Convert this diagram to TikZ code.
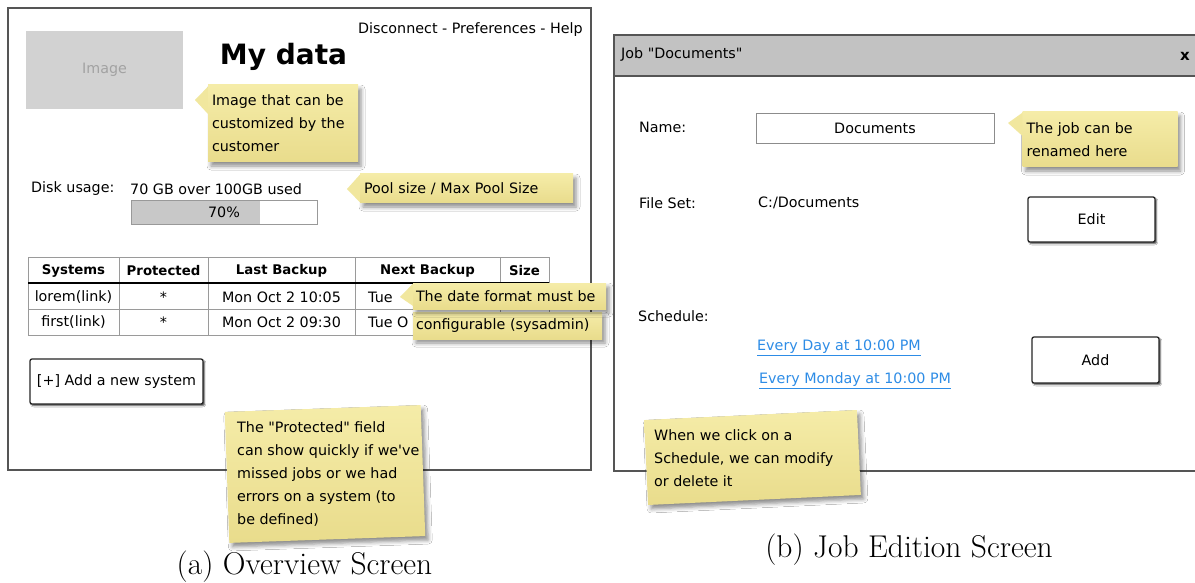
\documentclass[tikz,border=0pt]{standalone}
\usepackage{fontspec}
\newfontfamily\uifont{DejaVu Sans}
\usetikzlibrary{shadows.blur}
\definecolor{notetop}{HTML}{F5ECA8}
\definecolor{notebot}{HTML}{E9DC8C}
\definecolor{pointerc}{HTML}{F1E79E}
\definecolor{framec}{HTML}{555555}
\definecolor{gridc}{HTML}{9A9A9A}
\definecolor{phfill}{HTML}{D2D2D2}
\definecolor{phtext}{HTML}{A2A2A2}
\definecolor{barfill}{HTML}{C8C8C8}
\definecolor{titlebar}{HTML}{C2C2C2}
\definecolor{linkc}{HTML}{2D8CE6}
\begin{document}
\begin{tikzpicture}[x=1pt,y=-1pt,
  ui/.style={font=\uifont\fontsize{14.3}{23}\selectfont, inner sep=0pt},
  head/.style={font=\uifont\bfseries\fontsize{13.3}{16}\selectfont, inner sep=0pt},
  frame/.style={draw=framec, line width=1.4pt},
  grid/.style={draw=gridc, line width=0.9pt},
  notebody/.style={top color=notetop, bottom color=notebot, draw=none,
    blur shadow={shadow xshift=3pt, shadow yshift=-4pt, shadow blur radius=4pt, shadow opacity=45}},
  callnote/.style={notebody, font=\uifont\fontsize{14.3}{23}\selectfont, align=left, inner ysep=0pt},
  pointer/.style={fill=pointerc, draw=none},
  notetext/.style={font=\uifont\fontsize{14.3}{23}\selectfont, align=left, inner sep=0pt},
  btn/.style={draw=black!85, line width=1.3pt, rounded corners=2pt, fill=white,
    font=\uifont\fontsize{14.3}{17}\selectfont,
    blur shadow={shadow xshift=1.6pt, shadow yshift=-1.8pt, shadow blur radius=1.2pt, shadow opacity=70}},
  field/.style={draw=black!45, line width=0.9pt, fill=white, font=\uifont\fontsize{14.3}{17}\selectfont},
  link/.style={font=\uifont\fontsize{14.3}{17}\selectfont, text=linkc, inner sep=0pt},
  caption/.style={font=\fontsize{31.5}{36}\selectfont, inner sep=0pt}]
\useasboundingbox (0,0) rectangle (1195,583);
\fill[white] (0,0) rectangle (1195,583);

% ---------------- Overview screen ----------------
\draw[frame] (8,8) rectangle (591,470);
\node[ui, anchor=east] (menu) at (583,30) {Disconnect - Preferences - Help};
\node[fill=phfill, minimum width=157, minimum height=78, text=phtext,
      font=\uifont\fontsize{14.3}{17}\selectfont] (logo) at (104.5,70) {Image};
\node[font=\uifont\bfseries\fontsize{28}{32}\selectfont, inner sep=0pt] (title) at (283.5,57) {My data};

\node[callnote, minimum width=150, minimum height=77, text width=142, inner xsep=4pt] (noteImg) at (283,123.5)
      {Image that can be\\customized by the\\customer};
\coordinate (tipImg) at (195,100);
\fill[pointer] ([yshift=-2pt]noteImg.north west) -- (tipImg) -- ([yshift=-29pt]noteImg.north west) -- cycle;

\node[ui, anchor=west] (disk) at (31,189) {Disk usage:};
\node[ui, anchor=west] (used) at (130,189) {70 GB over 100GB used};
\node[draw=black!40, line width=0.9pt, minimum width=186, minimum height=24,
      path picture={\fill[barfill] (path picture bounding box.north west)
        rectangle ([xshift=129pt]path picture bounding box.south west);}] (bar) at (224,212) {};
\node[ui] (pct) at (bar.center) {70\%};

\node[callnote, minimum width=213, minimum height=29, text width=205, inner xsep=4pt] (notePool) at (466.5,188.5)
      {Pool size / Max Pool Size};
\coordinate (tipPool) at (347,189);
\fill[pointer] ([yshift=-1pt]notePool.north west) -- (tipPool) -- ([yshift=1pt]notePool.south west) -- cycle;

% systems table
\draw[grid] (28,257) rectangle (549,335);
\foreach \cx in {119,208,355,500} \draw[grid] (\cx,257) -- (\cx,335);
\draw[grid] (28,309) -- (549,309);
\draw[black, line width=1.8pt] (28,283) -- (549,283);
\node[head] (hSys)  at (73.5,271)  {Systems};
\node[head] (hProt) at (163.5,271) {Protected};
\node[head] (hLast) at (281.5,271) {Last Backup};
\node[head] (hNext) at (427.5,271) {Next Backup};
\node[head] (hSize) at (524.5,271) {Size};
\node[ui] (r1a) at (73.5,297)  {lorem(link)};
\node[ui] (r1b) at (163.5,297) {*};
\node[ui] (r1c) at (281.5,297) {Mon Oct 2 10:05};
\node[ui, anchor=west] (r1d) at (368,297) {Tue};
\node[ui] (r2a) at (73.5,322)  {first(link)};
\node[ui] (r2b) at (163.5,322) {*};
\node[ui] (r2c) at (281.5,322) {Mon Oct 2 09:30};
\node[ui, anchor=west] (r2d) at (368,322) {Tue O};

\node[callnote, minimum width=189, minimum height=27, text width=183, inner xsep=3pt]
      (noteDate2) at (507.5,325.5) {configurable (sysadmin)};
\node[callnote, minimum width=193, minimum height=26, text width=187, inner xsep=3pt] (noteDate) at (509.5,296)
      {The date format must be};
\coordinate (tipDate) at (400,297);
\fill[pointer] ([yshift=-1pt]noteDate.north west) -- (tipDate) -- ([yshift=-23pt]noteDate.north west) -- cycle;

\node[btn, minimum width=173, minimum height=45] (addSys) at (116.5,381.5) {[+] Add a new system};

\node[notebody, rotate=2, minimum width=196, minimum height=131] (noteProt) at (325,474) {};
\node[notetext, anchor=west] (protText) at (237,474.5)
  {The "Protected" field\\can show quickly if we\textquotesingle ve\\missed jobs or we had\\errors on a system (to\\be defined)};

\node[caption] (capA) at (304.5,567) {(a) Overview Screen};

% ---------------- Job edition screen ----------------
\fill[titlebar] (614,35) rectangle (1198,76);
\draw[frame] (614,35) rectangle (1198,471);
\draw[frame] (614,76) -- (1198,76);
\node[ui, anchor=west] (jobTitle) at (621,55) {Job "Documents"};
\node[font=\uifont\bfseries\fontsize{15}{17}\selectfont, inner sep=0pt] (close) at (1185,56) {x};

\node[ui, anchor=west] (lblName) at (639,127) {Name:};
\node[field, minimum width=238, minimum height=30] (fName) at (875,128) {Documents};
\node[callnote, minimum width=155, minimum height=55, text width=147, inner xsep=4pt] (noteName) at (1100,139.5)
      {The job can be\\renamed here};
\coordinate (tipName) at (1008,123);
\fill[pointer] ([yshift=-1pt]noteName.north west) -- (tipName) -- ([yshift=-24pt]noteName.north west) -- cycle;

\node[ui, anchor=west] (lblSet) at (639,203) {File Set:};
\node[ui, anchor=west] (valSet) at (758,203) {C:/Documents};
\node[btn, minimum width=127, minimum height=45] (edit) at (1091.5,219.5) {Edit};

\node[ui, anchor=west] (lblSched) at (638,316) {Schedule:};
\node[link, anchor=west] (sched1) at (757,348) {\underline{Every Day at 10:00 PM}};
\node[link, anchor=west] (sched2) at (759,381) {\underline{Every Monday at 10:00 PM}};
\node[btn, minimum width=127, minimum height=46] (add) at (1095.5,360) {Add};

\node[notebody, rotate=2.7, minimum width=213, minimum height=85] (noteSched) at (752.5,457.5) {};
\node[notetext, anchor=west] (schedText) at (654,458)
  {When we click on a\\Schedule, we can modify\\or delete it};

\node[caption] (capB) at (909,550) {(b) Job Edition Screen};
\end{tikzpicture}
\end{document}
